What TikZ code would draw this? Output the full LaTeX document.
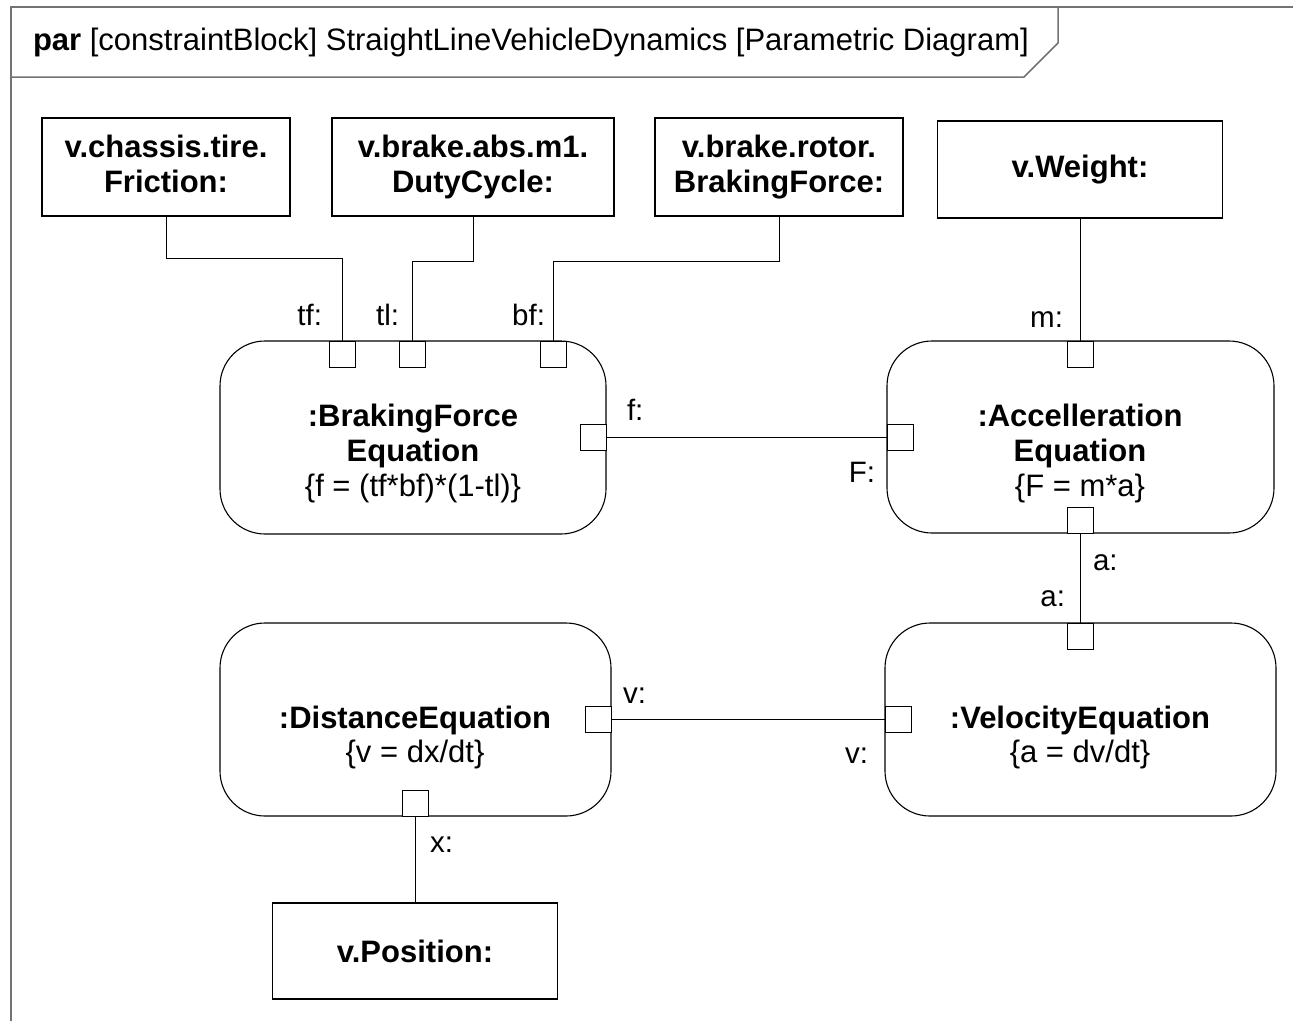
\documentclass[tikz,border=0pt]{standalone}
\usepackage{fontspec}
\setmainfont{Liberation Sans}
\begin{document}
\begin{tikzpicture}[x=1pt,y=-1pt,
  every node/.style={inner sep=0pt, outer sep=0pt},
  txt/.style={font=\fontsize{31}{35}\selectfont},
  txttwo/.style={font=\fontsize{31}{34}\selectfont},
  prop/.style={draw, line width=1.7pt, align=center, font=\fontsize{31}{35}\selectfont\bfseries},
  cblock/.style={draw, line width=1.1pt, rounded corners=45pt},
  port/.style={draw, line width=1pt, fill=white, minimum width=26pt, minimum height=26pt},
  wire/.style={line width=1pt},
  plabel/.style={font=\fontsize{29.5}{35}\selectfont},
  frameline/.style={draw=black!55, line width=1.5pt}
]
\useasboundingbox (0,0) rectangle (1293,1021);
\fill[white] (0,0) rectangle (1293,1021);

% diagram frame and its name tab
\draw[frameline] (1293,7) -- (11,7) -- (11,1021);
\draw[frameline] (11,77) -- (1024,77) -- (1058,43) -- (1058,7);
\node[txt, anchor=base west] (title) at (33,50)
  {\textbf{par} [constraintBlock] StraightLineVehicleDynamics [Parametric Diagram]};

% value properties
\node[prop, minimum width=248pt, minimum height=98pt] (fric) at (166,167) {v.chassis.tire.\\Friction:\vphantom{y}};
\node[prop, minimum width=282pt, minimum height=98pt] (duty) at (473,167) {v.brake.abs.m1.\\DutyCycle:};
\node[prop, minimum width=248pt, minimum height=98pt] (brk) at (779,167) {v.brake.rotor.\\BrakingForce:};
\node[prop, minimum width=285pt, minimum height=97pt] (wt) at (1080,169.5) {v.Weight:};
\node[prop, minimum width=285pt, minimum height=96pt] (pos) at (415,951) {v.Position:};

% constraint properties
\node[cblock, minimum width=386pt, minimum height=193pt] (bfe) at (413,437.5) {};
\node[cblock, minimum width=387pt, minimum height=192pt] (ace) at (1080.5,437) {};
\node[cblock, minimum width=391pt, minimum height=193pt] (dse) at (415.5,719.5) {};
\node[cblock, minimum width=391pt, minimum height=193pt] (vle) at (1080.5,719.5) {};

\node[txt, align=center] (bfeT) at (413,453)
  {\textbf{:BrakingForce}\\\textbf{Equation}\\\{f = (tf*bf)*(1-tl)\}};
\node[txt, align=center] (aceT) at (1080,453)
  {\textbf{:Accelleration}\\\textbf{Equation}\\\{F = m*a\}};
\node[txttwo, align=center] (dseT) at (415,737)
  {\textbf{:DistanceEquation}\\\{v = dx/dt\}};
\node[txttwo, align=center] (vleT) at (1080,737)
  {\textbf{:VelocityEquation}\\\{a = dv/dt\}};

% constraint parameters (ports)
\node[port] (ptf) at (342,354) {};
\node[port] (ptl) at (412.5,354) {};
\node[port] (pbf) at (553.5,354) {};
\node[port] (pf) at (593,437) {};
\node[port] (pF) at (900,437) {};
\node[port] (pm) at (1080,354) {};
\node[port] (paA) at (1080,520) {};
\node[port] (paV) at (1080,636) {};
\node[port] (pvD) at (598,719.5) {};
\node[port] (pvV) at (898,719.5) {};
\node[port] (px) at (415,803) {};

% binding connectors
\draw[wire] (fric.south) -- ++(0,42) -| (ptf.north);
\draw[wire] (duty.south) -- ++(0,45) -| (ptl.north);
\draw[wire] (brk.south) -- ++(0,45) -| (pbf.north);
\draw[wire] (wt.south) -- (pm.north);
\draw[wire] (pf.east) -- (pF.west);
\draw[wire] (paA.south) -- (paV.north);
\draw[wire] (pvD.east) -- (pvV.west);
\draw[wire] (px.south) -- (pos.north);

% parameter names
\node[plabel, anchor=base east] (ltf) at (322,325) {tf:};
\node[plabel, anchor=base east] (ltl) at (399,325) {tl:};
\node[plabel, anchor=base east] (lbf) at (545,325) {bf:};
\node[plabel, anchor=base east] (lm) at (1063,327) {m:};
\node[plabel, anchor=base west] (lf) at (627,420) {f:};
\node[plabel, anchor=base east] (lF) at (875,482) {F:};
\node[plabel, anchor=base west] (la1) at (1093,570) {a:};
\node[plabel, anchor=base east] (la2) at (1065,606) {a:};
\node[plabel, anchor=base west] (lv1) at (623,703) {v:};
\node[plabel, anchor=base east] (lv2) at (868,763) {v:};
\node[plabel, anchor=base west] (lx) at (430,852) {x:};
\end{tikzpicture}
\end{document}
